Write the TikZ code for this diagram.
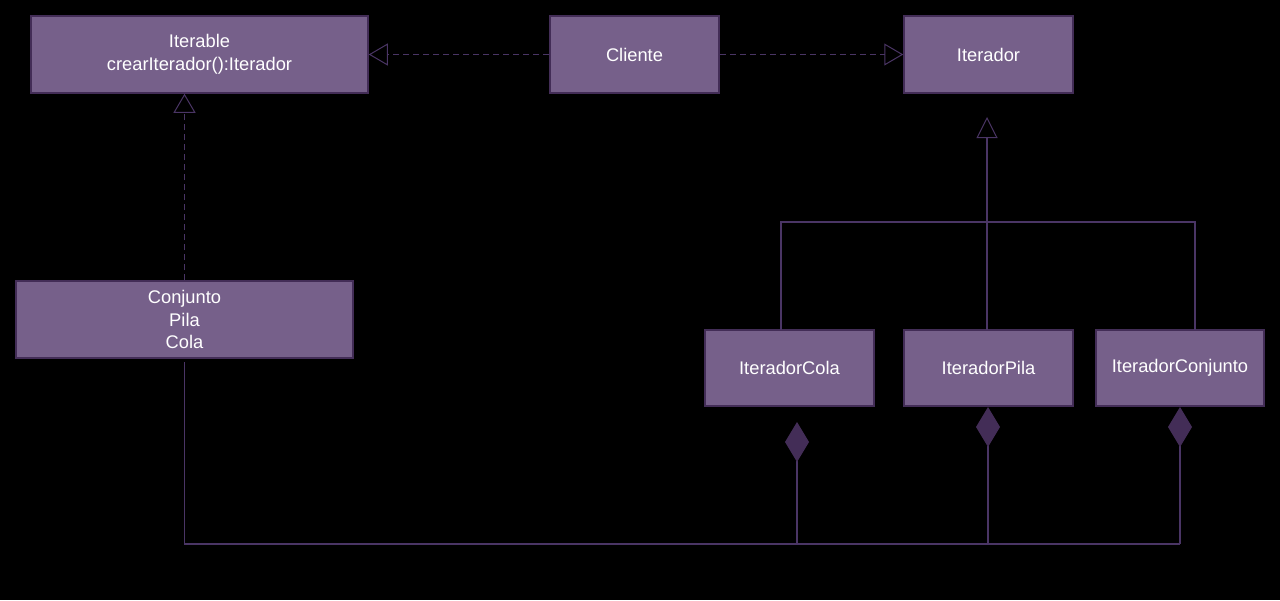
\documentclass[tikz,border=0pt]{standalone}
\usepackage{fontspec}
\setmainfont{Liberation Sans}
\usetikzlibrary{arrows.meta}
\definecolor{boxfill}{HTML}{76608A}
\definecolor{boxline}{HTML}{432D57}
\definecolor{conn}{HTML}{4A3565}
\begin{document}
\begin{tikzpicture}[x=1pt,y=-1pt,
  cls/.style={draw=boxline, fill=boxfill, line width=1.5pt, inner sep=0pt, align=center,
    text=white, font=\fontsize{18.3}{22.5}\selectfont},
  realize/.style={draw=conn, line width=1pt, dash pattern=on 6pt off 4pt,
    -{Triangle[open, length=19pt, width=22pt, line width=1pt]}},
  tree/.style={draw=conn, line width=2.5pt},
  comp/.style={draw=conn, line width=1.2pt,
    -{Diamond[length=40pt, width=24pt, fill=boxline, color=boxline]}},
  bus/.style={draw=conn, line width=1.2pt}]
\fill[black] (0,0) rectangle (1280,600);
\useasboundingbox (0,0) rectangle (1280,600);

\node[cls, minimum width=337pt, minimum height=77pt] (iterable) at (199.5,54.5)
  {Iterable\\crearIterador():Iterador};
\node[cls, minimum width=169pt, minimum height=77pt] (cliente) at (634.5,54.5) {Cliente};
\node[cls, minimum width=169pt, minimum height=77pt] (iterador) at (988.5,54.5) {Iterador};
\node[cls, minimum width=337pt, minimum height=77pt] (conjunto) at (184.5,319.5)
  {Conjunto\\Pila\\Cola};
\node[cls, minimum width=169pt, minimum height=76pt] (itcola) at (789.5,368) {IteradorCola};
\node[cls, minimum width=169pt, minimum height=76pt] (itpila) at (988.5,368) {IteradorPila};
\node[cls, minimum width=168pt, minimum height=76pt] (itconj) at (1180,368) {IteradorConjunto};

% realizations
\draw[realize] (cliente.west) -- (iterable.east);
\draw[realize] (cliente.east) -- (iterador.west);
\draw[realize] (conjunto.north) -- (conjunto.north |- iterable.south);

% inheritance tree to Iterador
\coordinate (colatop) at (781,330);
\coordinate (conjtop) at (1195,330);
\coordinate (pilatop) at (987,330);
\coordinate (itertip) at (987,117);
\draw[tree] (colatop) -- ++(0,-108) -| (conjtop);
\draw[tree, -{Triangle[open, length=21pt, width=21pt, line width=1pt]}] (pilatop) -- (itertip);

% composition bus
\coordinate (conjbot) at (184.5,362);
\coordinate (busA) at (797,544);
\coordinate (busB) at (988,544);
\coordinate (busC) at (1180,544);
\coordinate (dA) at (797,422);
\coordinate (dB) at (988,407);
\coordinate (dC) at (1180,407);
\draw[bus] (conjbot) |- (busC);
\draw[comp] (busA) -- (dA);
\draw[comp] (busB) -- (dB);
\draw[comp] (busC) -- (dC);
\end{tikzpicture}
\end{document}
